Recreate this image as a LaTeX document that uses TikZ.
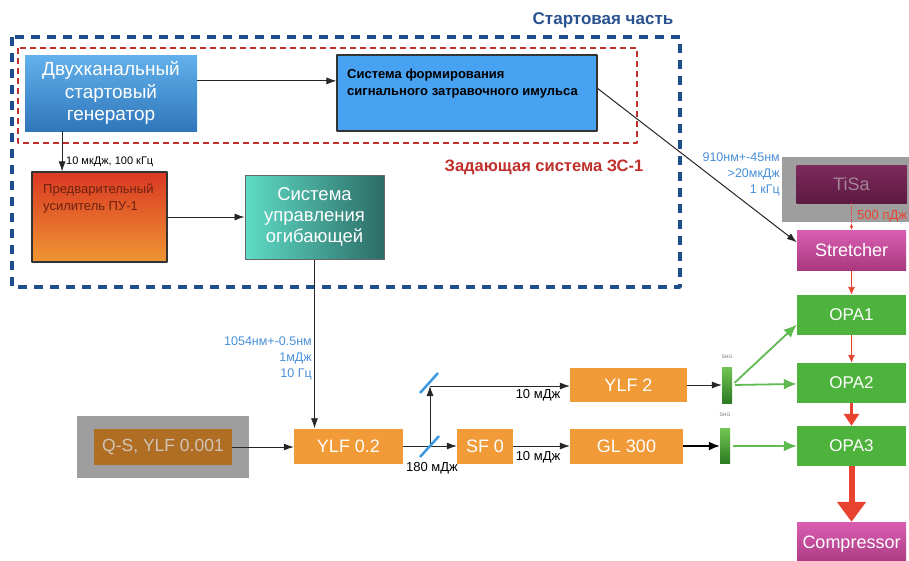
\documentclass[tikz,border=0pt]{standalone}
\usepackage{fontspec}
\setmainfont{Liberation Sans}
\usepackage{tikz}
\usetikzlibrary{arrows.meta}
\definecolor{navy}{HTML}{1F4E8C}
\definecolor{titleblue}{HTML}{2A5291}
\definecolor{zsred}{HTML}{C0302B}
\definecolor{lblue}{HTML}{4A90D9}
\definecolor{orng}{HTML}{F09A38}
\definecolor{opagreen}{HTML}{4DB33D}
\definecolor{beamred}{HTML}{E8432E}
\definecolor{pinktop}{HTML}{D95EB2}
\definecolor{pinkbot}{HTML}{A8387F}
\definecolor{splitblue}{HTML}{3C9BE0}
\definecolor{edge}{HTML}{333333}
\definecolor{gentop}{HTML}{62B1EC}
\definecolor{genbot}{HTML}{2F76BA}
\definecolor{formblue}{HTML}{48A2F2}
\definecolor{pretop}{HTML}{DA3822}
\definecolor{prebot}{HTML}{EF9633}
\definecolor{pretext}{HTML}{6E2212}
\definecolor{ctrlleft}{HTML}{5FDCC6}
\definecolor{ctrlright}{HTML}{2C6C66}
\definecolor{tisatop}{HTML}{7E2A5E}
\definecolor{tisabot}{HTML}{5C1A42}
\definecolor{tisatext}{HTML}{A58496}
\definecolor{qsbrown}{HTML}{B06D24}
\definecolor{qstext}{HTML}{CFC6B8}
\definecolor{shgtop}{HTML}{72C553}
\definecolor{shgbot}{HTML}{2C7A22}
\tikzset{
  every picture/.style={line join=round, >=Stealth},
  arr/.style={-{Latex[length=10pt,width=7pt]}, line width=0.8pt, draw=black!85},
  garr/.style={-{Latex[length=13pt,width=11pt]}, line width=1.8pt, draw=opagreen!90!white},
  rarr/.style={-{Latex[length=8pt,width=7pt]}, line width=0.9pt, draw=beamred},
  box/.style={rectangle, inner sep=0pt, text=white, font=\fontsize{18}{20}\selectfont},
  orangebox/.style={box, fill=orng, minimum height=35pt},
  opabox/.style={box, fill=opagreen, minimum width=109pt, minimum height=40pt, font=\fontsize{17}{20}\selectfont},
  pinkbox/.style={box, top color=pinktop, bottom color=pinkbot, minimum width=109pt, minimum height=40pt},
  shgbox/.style={rectangle, inner sep=0pt, minimum width=10pt, minimum height=35pt, top color=shgtop, bottom color=shgbot},
  note/.style={inner sep=0pt, font=\fontsize{13}{16}\selectfont},
  bluenote/.style={note, text=lblue, align=right, font=\fontsize{12.5}{16}\selectfont},
  splitter/.style={draw=splitblue, line width=2.5pt},
}

\begin{document}
\begin{tikzpicture}[x=1pt,y=-1pt]
\useasboundingbox[fill=white] (0,0) rectangle (909,560);
\draw[navy, line width=3.5pt, dash pattern=on 9pt off 7pt] (12,37) rectangle (680,287);
\draw[zsred, line width=2pt, dash pattern=on 6pt off 4pt] (18,48) rectangle (637,143);
\node[font=\bfseries\fontsize{17}{20}\selectfont, text=titleblue] (title) at (603,20) {Стартовая часть};
\node[font=\bfseries\fontsize{16.5}{20}\selectfont, text=zsred] (zs) at (544,167) {Задающая система ЗС-1};
\node[box, top color=gentop, bottom color=genbot, minimum width=172pt, minimum height=76pt, align=center, font=\fontsize{19}{22.5}\selectfont] (gen) at (111,93) {Двухканальный\\стартовый\\генератор};
\node[rectangle, fill=formblue, draw=edge, line width=1.2pt, minimum width=260pt, minimum height=76pt] (form) at (467,93) {};
\node[anchor=north west, inner sep=0pt, align=left, font=\bfseries\fontsize{13}{17}\selectfont] (formtext) at (347,69) {Система формирования\\сигнального затравочного имульса};
\node[rectangle, top color=pretop, bottom color=prebot, draw=edge, line width=1.2pt, minimum width=135pt, minimum height=90pt] (pre) at (99.5,217) {};
\node[anchor=north west, inner sep=0pt, align=left, text=pretext, font=\fontsize{13}{17}\selectfont] (pretext) at (43,184) {Предварительный\\усилитель ПУ-1};
\node[box, left color=ctrlleft, right color=ctrlright, draw=black!60, line width=1pt, minimum width=139pt, minimum height=84pt, align=center, font=\fontsize{18.5}{21}\selectfont] (ctrl) at (314.5,217) {Система\\управления\\огибающей};
\fill[black!38] (782,157) rectangle (915,222);
\node[box, top color=tisatop, bottom color=tisabot, minimum width=110pt, minimum height=38pt, text=tisatext] (tisa) at (851.5,184) {TiSa};
\node[pinkbox] (stretcher) at (851.5,250) {Stretcher};
\node[opabox] (opa1) at (851.5,315) {OPA1};
\node[opabox] (opa2) at (851.5,383) {OPA2};
\node[opabox] (opa3) at (851.5,446) {OPA3};
\node[pinkbox, minimum height=44pt] (comp) at (851.5,544) {Compressor};
\fill[black!38] (77,416) rectangle (249,478);
\node[box, fill=qsbrown, minimum width=138pt, minimum height=36pt, text=qstext, font=\fontsize{17.5}{20}\selectfont] (qs) at (163,447) {Q-S, YLF 0.001};
\node[orangebox, minimum width=109pt] (ylf02) at (348.5,446) {YLF 0.2};
\node[orangebox, minimum width=56pt] (sf0) at (485,446) {SF 0};
\node[orangebox, minimum width=117pt, minimum height=34pt] (ylf2) at (628.5,385) {YLF 2};
\node[orangebox, minimum width=113pt] (gl300) at (626.5,446) {GL 300};
\node[shgbox, minimum height=36pt] (shg1) at (727,385) {};
\node[shgbox] (shg2) at (725,446) {};
\node[font=\fontsize{5}{6}\selectfont, text=black!55] (shg1lbl) at (727,357) {SHG};
\node[font=\fontsize{5}{6}\selectfont, text=black!55] (shg2lbl) at (725,415) {SHG};
\coordinate (bs) at (430,446);
\coordinate (mr) at (430,386);
\draw[arr] (gen.8) -- (gen.8 -| form.west);
\draw[arr] (gen.218) -- (gen.218 |- pre.north);
\node[anchor=west, inner sep=0pt, font=\fontsize{11}{13}\selectfont] (preinfo) at (66,162) {10 мкДж, 100 кГц};
\draw[arr] (pre) -- (ctrl);
\draw[arr] (ctrl.south) -- (ctrl.south |- ylf02.north);
\node[bluenote, anchor=east] (seedinfo) at (312,358) {1054нм+-0.5нм\\1мДж\\10 Гц};
\draw[arr, line width=1pt] (form.2) -- (stretcher.172);
\node[bluenote, anchor=east] (tisainfo) at (780,174) {910нм+-45нм\\>20мкДж\\1 кГц};
\draw[arr] (qs) -- (qs -| ylf02.west);
\draw[arr] (ylf02) -- (sf0);
\draw[arr] (bs) -- (mr);
\draw[arr] (mr) -- (mr -| ylf2.west);
\draw[arr] (sf0) -- (gl300);
\draw[splitter] (bs) ++(-10,11) -- ++(19,-21);
\draw[splitter] (mr) ++(-10,7) -- ++(18,-20);
\node[note] (e180) at (432,468) {180 мДж};
\node[note] (e10a) at (538,395) {10 мДж};
\node[note] (e10b) at (538,457) {10 мДж};
\draw[arr] (ylf2) -- (shg1);
\draw[-{Latex[length=11pt,width=9pt]}, line width=1.6pt] (gl300) -- (shg2);
\draw[garr, shorten <=3pt] (shg1.east) -- (opa1.190);
\draw[garr, shorten <=3pt] (shg1.east) -- (opa2);
\draw[garr, shorten <=3pt] (shg2) -- (opa3);
\draw[beamred, densely dotted, line width=0.7pt, -{Latex[length=4pt,width=4pt]}] (tisa) -- (stretcher);
\node[anchor=west, inner sep=0pt, text=beamred, font=\fontsize{13}{15}\selectfont] (tisaout) at (857,216) {500 пДж};
\draw[rarr] (stretcher) -- (opa1);
\draw[rarr] (opa1) -- (opa2);
\draw[beamred, line width=3pt, -{Triangle[length=12pt,width=15pt]}] (opa2) -- (opa3);
\draw[beamred, line width=6pt, -{Triangle[length=20pt,width=28pt]}] (opa3) -- (comp);
\end{tikzpicture}
\end{document}
